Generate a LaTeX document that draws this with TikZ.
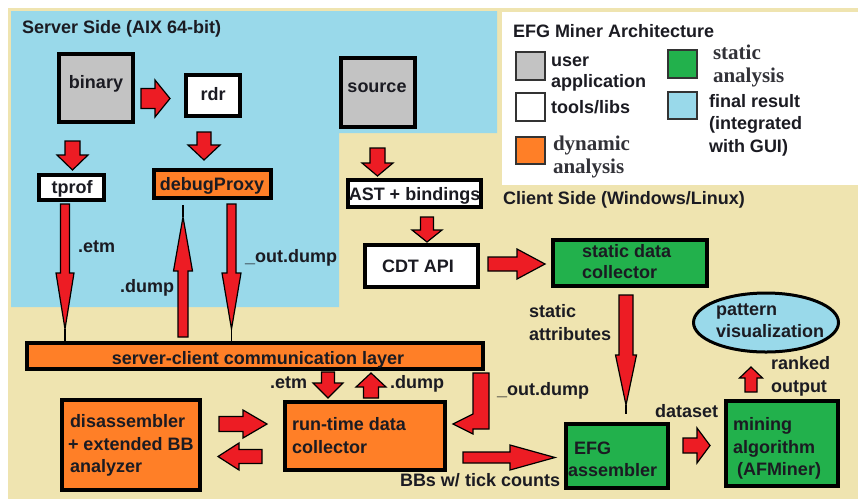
\documentclass[tikz,border=0pt]{standalone}
\usepackage{fontspec}
\setmainfont{Liberation Sans}
\newfontfamily\seriffont{Liberation Serif}
\usetikzlibrary{shapes.geometric}
\definecolor{cream}{HTML}{EFE4B0}
\definecolor{sky}{HTML}{99D9EA}
\definecolor{orng}{HTML}{FF7F27}
\definecolor{grn}{HTML}{22B14C}
\definecolor{gry}{HTML}{C3C3C3}
\definecolor{rd}{HTML}{ED1C24}
\definecolor{ink}{HTML}{1B1B22}
\tikzset{
  arr/.style={fill=rd, draw=black, line width=1.2pt, line join=miter},
  box/.style={draw=black, line width=4pt, rectangle, inner sep=0pt, outer sep=0pt},
  txt/.style={text=ink, font=\bfseries\fontsize{18}{21}\selectfont, inner sep=0pt, outer sep=0pt},
  stxt/.style={text=ink!90, font=\seriffont\bfseries\fontsize{21}{24}\selectfont, inner sep=0pt, outer sep=0pt},
  swatch/.style={draw=black!80, line width=1.5pt}
}
\newcommand\harrow[6]{% y, xstart, xbase, xtip, shafthalf, headhalf
  \filldraw[arr] (#2,#1-#5) -- (#3,#1-#5) -- (#3,#1-#6) -- (#4,#1) -- (#3,#1+#6) -- (#3,#1+#5) -- (#2,#1+#5) -- cycle;}
\newcommand\varrow[6]{% x, ystart, ybase, ytip, shafthalf, headhalf
  \filldraw[arr] (#1-#5,#2) -- (#1-#5,#3) -- (#1-#6,#3) -- (#1,#4) -- (#1+#6,#3) -- (#1+#5,#3) -- (#1+#5,#2) -- cycle;}
\newcommand\needle[7]{% x, y0, ybase, ytip, yend, shafthalf, headhalf
  \draw[black, line width=1.5pt] (#1,#4) -- (#1,#5);
  \filldraw[arr] (#1-#6,#2) -- (#1-#6,#3) -- (#1-#7,#3) -- (#1,#4) -- (#1+#7,#3) -- (#1+#6,#3) -- (#1+#6,#2) -- cycle;}
\begin{document}
\begin{tikzpicture}[x=1pt,y=-1pt]
\useasboundingbox (0,0) rectangle (858,499);
% backgrounds
\fill[white] (0,0) rectangle (858,499);
\fill[cream] (8,8) rectangle (858,499);
\fill[sky] (11,11) -- (497,11) -- (497,133) -- (339,133) -- (339,307) -- (11,307) -- cycle;
\fill[white] (502,12) rectangle (858,185);
% region titles
\node[txt, anchor=base west] (serverlbl) at (22,33.5) {Server Side (AIX 64-bit)};
\node[txt, anchor=base west] (clientlbl) at (503,204) {Client Side (Windows/Linux)};
% legend
\node[txt, anchor=base west] (legtitle) at (513,37.5) {EFG Miner Architecture};
\draw[swatch, fill=gry] (516,52) rectangle (545,80);
\draw[swatch, fill=white] (516,93) rectangle (545,121);
\draw[swatch, fill=orng] (516,137) rectangle (545,164);
\draw[swatch, fill=grn] (668,50) rectangle (697,78);
\draw[swatch, fill=sky] (668,92) rectangle (697,119);
\node[txt, anchor=base west] (leg1a) at (551,66) {user};
\node[txt, anchor=base west] (leg1b) at (551,87) {application};
\node[txt, anchor=base west] (leg2) at (551,113) {tools/libs};
\node[stxt, anchor=base west] (leg3a) at (553,150) {dynamic};
\node[stxt, anchor=base west] (leg3b) at (553,173) {analysis};
\node[stxt, anchor=base west] (leg4a) at (713,59) {static};
\node[stxt, anchor=base west] (leg4b) at (713,82) {analysis};
\node[txt, anchor=base west] (leg5a) at (709,107) {final result};
\node[txt, anchor=base west] (leg5b) at (709,129) {(integrated};
\node[txt, anchor=base west] (leg5c) at (709,152) {with GUI)};
% boxes
\node[box, fill=gry, minimum width=74pt, minimum height=68pt] (binary) at (96,88) {};
\node[box, fill=white, minimum width=54pt, minimum height=41pt] (rdr) at (213,95.5) {};
\node[box, fill=gry, minimum width=74pt, minimum height=69pt] (source) at (378,92.5) {};
\node[box, fill=white, minimum width=65pt, minimum height=25pt] (tprof) at (71.5,187.5) {};
\node[box, fill=orng, minimum width=117pt, minimum height=28pt] (debug) at (212.5,184) {};
\node[box, fill=white, minimum width=133pt, minimum height=27pt] (ast) at (414.5,193.5) {};
\node[box, fill=white, minimum width=113pt, minimum height=42pt] (cdt) at (421.5,266) {};
\node[box, fill=grn, minimum width=154pt, minimum height=46pt] (sdc) at (630,263) {};
\node[box, fill=orng, minimum width=456pt, minimum height=26pt] (comm) at (255,356) {};
\node[box, fill=orng, minimum width=138pt, minimum height=90pt] (disasm) at (131,445) {};
\node[box, fill=orng, minimum width=160pt, minimum height=68pt] (rtdc) at (365,436) {};
\node[box, fill=grn, minimum width=102pt, minimum height=64pt] (efg) at (617,456) {};
\node[box, fill=grn, minimum width=112pt, minimum height=85pt] (mining) at (782,443.5) {};
\node[ellipse, draw=black, line width=3pt, fill=sky, inner sep=0pt, minimum width=145pt, minimum height=59pt] (patvis) at (766,322.5) {};
% box texts
\node[txt, anchor=base] (t-binary) at (96,88) {binary};
\node[txt, anchor=base] (t-rdr) at (213,100.5) {rdr};
\node[txt, anchor=base] (t-source) at (377,92.7) {source};
\node[txt, anchor=base] (t-tprof) at (72,193) {tprof};
\node[txt, anchor=base] (t-debug) at (212,190) {debugProxy};
\node[txt, anchor=base] (t-ast) at (414.5,200) {AST + bindings};
\node[txt, anchor=base] (t-cdt) at (418,272) {CDT API};
\node[txt, anchor=base west] (t-sdc1) at (582,257) {static data};
\node[txt, anchor=base west] (t-sdc2) at (582,278) {collector};
\node[txt, anchor=base] (t-comm) at (258,364) {server-client communication layer};
\node[txt, anchor=base west] (t-dis1) at (70,427) {disassembler};
\node[txt, anchor=base west] (t-dis2) at (68,450) {+ extended BB};
\node[txt, anchor=base west] (t-dis3) at (70,472) {analyzer};
\node[txt, anchor=base west] (t-rt1) at (292,430) {run-time data};
\node[txt, anchor=base west] (t-rt2) at (292,453) {collector};
\node[txt, anchor=base west] (t-efg1) at (574,454) {EFG};
\node[txt, anchor=base west] (t-efg2) at (568,476) {assembler};
\node[txt, anchor=base west] (t-min1) at (733,430) {mining};
\node[txt, anchor=base west] (t-min2) at (733,453) {algorithm};
\node[txt, anchor=base west] (t-min3) at (737,475) {(AFMiner)};
\node[txt, anchor=base west] (t-pat1) at (716,315) {pattern};
\node[txt, anchor=base west] (t-pat2) at (716,337) {visualization};
% block arrows
\harrow{98.5}{141}{155}{170}{10}{18.5}
\varrow{72.5}{141}{155}{170}{7.5}{15.5}
\varrow{204}{132}{145}{160}{7}{16}
\varrow{377.5}{148}{163}{176}{7.5}{15.5}
\varrow{427}{217}{230}{242}{6.5}{15}
\harrow{264}{488}{517}{545}{7}{15}
\harrow{424}{219}{243}{267}{7.5}{14}
\harrow{456.5}{262}{239}{218}{7}{13.5}
\varrow{328}{372}{383}{398}{6.5}{15}
\varrow{371}{398}{387}{373}{7.5}{15}
\harrow{457.5}{463}{510}{555}{5.5}{12.5}
\harrow{445.5}{683}{697}{710}{7.5}{17.5}
\varrow{751}{392}{378}{367}{6}{11.5}
\filldraw[arr] (473,373) -- (489,373) -- (489,429) -- (473,429) -- (473,434) -- (453,424) -- (473,414) -- cycle;
% needle arrows
\needle{65}{204}{273}{329}{341}{4.5}{9}
\needle{183}{337}{271}{217}{205}{5}{9.5}
\needle{231.5}{204}{273}{329}{341}{4.5}{9.5}
\needle{626}{295}{355}{405}{414}{7}{10.5}
% connector labels
\node[txt, anchor=base west] (l-etm1) at (78,252) {.etm};
\node[txt, anchor=base west] (l-dump1) at (120,292) {.dump};
\node[txt, anchor=base west] (l-out1) at (245,262) {\_out.dump};
\node[txt, anchor=base west] (l-etm2) at (270,388) {.etm};
\node[txt, anchor=base west] (l-dump2) at (390,388) {.dump};
\node[txt, anchor=base west] (l-out2) at (497,395) {\_out.dump};
\node[txt, anchor=base west] (l-bbs) at (400,486) {BBs w/ tick counts};
\node[txt, anchor=base west] (l-sa1) at (529,317) {static};
\node[txt, anchor=base west] (l-sa2) at (529,340) {attributes};
\node[txt, anchor=base west] (l-ds) at (655,417) {dataset};
\node[txt, anchor=base west] (l-ro1) at (771,369) {ranked};
\node[txt, anchor=base west] (l-ro2) at (771,392) {output};
\end{tikzpicture}
\end{document}
